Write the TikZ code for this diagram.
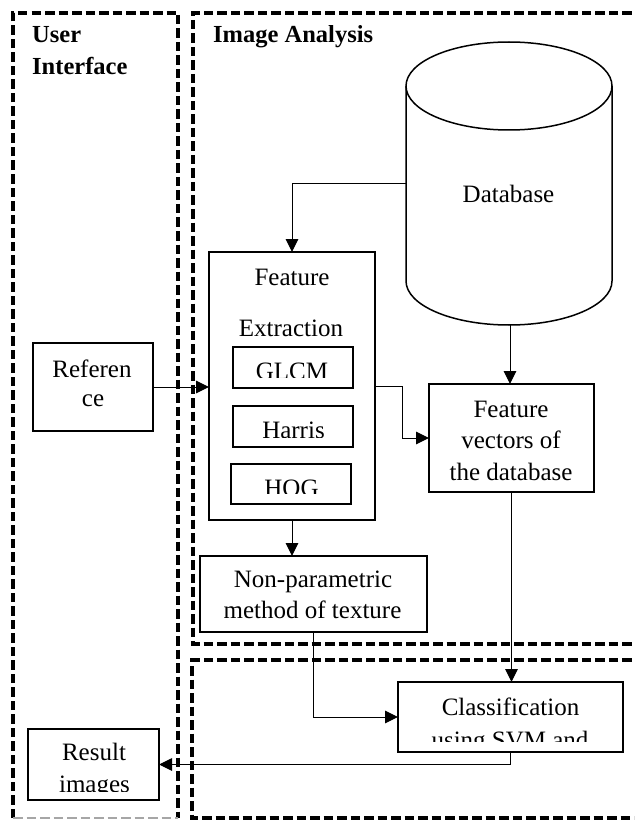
\documentclass[tikz,border=0pt]{standalone}
\usepackage{fontspec}
\setmainfont{Liberation Serif}
\usetikzlibrary{arrows.meta}
\begin{document}
\begin{tikzpicture}[x=1pt,y=-1pt,
  box/.style={draw, line width=1.5pt, inner sep=0pt, outer sep=0pt},
  txt/.style={font=\fontsize{25}{30}\selectfont, inner sep=0pt, anchor=base},
  ttl/.style={font=\fontsize{24.5}{30}\selectfont\bfseries, inner sep=0pt, anchor=base west},
  conn/.style={line width=1pt, -{Triangle[length=13pt,width=12.5pt]}},
  frame/.style={line width=3.3pt, dash pattern=on 9.5pt off 4pt}]
\useasboundingbox (0,0) rectangle (634,821);
\clip (0,0) rectangle (634,821);
% dashed frames
\draw[frame] (13,818) -- (13,13) -- (178,13) -- (178,818);
\draw[frame, black!35, line width=2pt] (13,818) -- (178,818);
\draw[frame] (645,13) -- (193,13) -- (193,644) -- (645,644);
\draw[frame] (645,660) -- (192,660) -- (192,818) -- (645,818);
% titles
\node[ttl] (tUser) at (32,43) {User};
\node[ttl] (tInter) at (32,75) {Interface};
\node[ttl] (tIA) at (213,43) {Image Analysis};
% database cylinder
\draw[line width=1.5pt] (509,86) ellipse [x radius=103, y radius=44];
\draw[line width=1.5pt] (406,86) -- (406,281) arc[start angle=180, end angle=0, x radius=103, y radius=44] -- (612,86);
\coordinate (dbL) at (406,184);
\coordinate (dbB) at (510,325);
\node[txt] (tDb) at (508.5,202) {Database};
% boxes
\node[box, minimum width=120pt, minimum height=88pt] (ref) at (93,387) {};
\node[box, minimum width=166pt, minimum height=268pt] (fe) at (292,386) {};
\node[box, minimum width=120pt, minimum height=41pt] (glcm) at (293,367.5) {};
\node[box, minimum width=120pt, minimum height=41pt] (harris) at (293,426.5) {};
\node[box, minimum width=120pt, minimum height=40pt] (hog) at (291,484) {};
\node[box, minimum width=165pt, minimum height=108pt] (fv) at (511.5,438) {};
\node[box, minimum width=227pt, minimum height=76pt] (np) at (313.5,594) {};
\node[box, minimum width=225pt, minimum height=70pt] (cls) at (510.5,717) {};
\node[box, minimum width=131pt, minimum height=71pt] (res) at (93.5,764.5) {};
% texts
\node[txt] (tFe1) at (292,285) {Feature};
\node[txt] (tFe2) at (291,336) {Extraction};
\node[txt] (tRef1) at (92,377) {Referen};
\node[txt] (tRef2) at (93,406) {ce};
\begin{scope}
\clip (233,347) rectangle (353,377.5);
\node[txt] (tGlcm) at (292,379.5) {GLCM};
\end{scope}
\begin{scope}
\clip (233,406) rectangle (353,437);
\node[txt] (tHarris) at (293.5,438.5) {Harris};
\end{scope}
\begin{scope}
\clip (231,464) rectangle (351,493.5);
\node[txt] (tHog) at (291.5,496) {HOG};
\end{scope}
\node[txt] (tFv1) at (511,417) {Feature};
\node[txt] (tFv2) at (511,448) {vectors of};
\node[txt] (tFv3) at (511,480) {the database};
\node[txt] (tNp1) at (313,587) {Non-parametric};
\node[txt] (tNp2) at (312.5,618) {method of texture};
\node[txt] (tCls1) at (510.5,715) {Classification};
\begin{scope}
\clip (398,682) rectangle (623,741.5);
\node[txt] (tCls2) at (510,748) {using SVM and};
\end{scope}
\node[txt] (tRes1) at (94,760) {Result};
\begin{scope}
\clip (28,729) rectangle (159,791);
\node[txt] (tRes2) at (94.5,792) {images};
\end{scope}
% connectors
\draw[conn] (ref.east) -- (ref.east -| fe.west);
\draw[conn] (dbL) -| (fe.north);
\draw[conn] (dbB) -- (dbB |- fv.north);
\draw[conn] (fe.east) -- ++(27,0) |- (fv.west);
\draw[conn] (fe.south) -- (fe.south |- np.north);
\draw[conn] (fv.south) -- (fv.south |- cls.north);
\draw[conn] (np.south) |- (cls.west);
\draw[conn] (cls.south) |- (res.east);
\end{tikzpicture}
\end{document}
